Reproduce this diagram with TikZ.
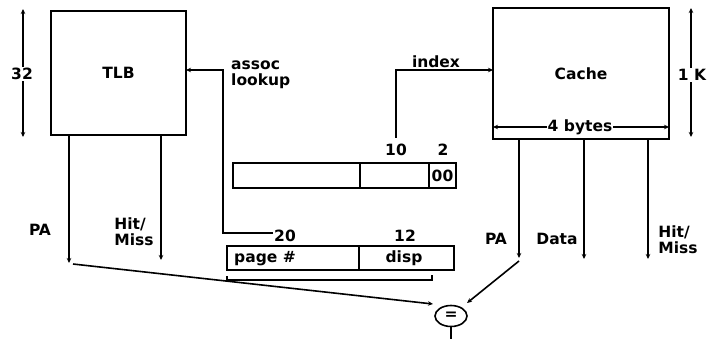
\documentclass[tikz,border=0pt]{standalone}
\usepackage{fontspec}
\setmainfont{DejaVu Sans}
\usetikzlibrary{arrows.meta,shapes.geometric}
\begin{document}
\begin{tikzpicture}[x=1pt,y=-1pt,
  every node/.style={font=\fontsize{15.5}{16}\selectfont\bfseries, inner sep=1pt},
  ln/.style={line width=1.6pt},
  arr/.style={ln,-{Stealth[length=5pt,width=4.5pt]}},
  darr/.style={ln,{Stealth[length=5pt,width=4.5pt]}-{Stealth[length=5pt,width=4.5pt]}},
  blk/.style={draw,line width=1.6pt,inner sep=0pt},
  lbl/.style={fill=white,inner sep=1pt},
  ml/.style={align=left}]
\useasboundingbox (0,0) rectangle (708,339);
% TLB
\node[blk,minimum width=135pt,minimum height=124pt] (tlb) at (118.5,73) {TLB};
\coordinate (t32a) at (23,9);
\coordinate (t32b) at (23,137);
\draw[darr] (t32a) -- (t32b);
\node[lbl] (n32) at (22,74) {32};
% Cache
\node[blk,minimum width=176pt,minimum height=131pt] (cache) at (581,73.5) {Cache};
\coordinate (cba) at (493,127);
\coordinate (cbb) at (669,127);
\draw[darr] (cba) -- (cbb);
\node[lbl] (n4b) at (580,127) {4 bytes};
\coordinate (c1a) at (691,8);
\coordinate (c1b) at (691,137);
\draw[darr] (c1a) -- (c1b);
\node[lbl] (n1k) at (692,75) {1 K};
% TLB outputs
\coordinate (tpaS) at (69,135);
\coordinate (tpaE) at (69,263);
\coordinate (thmS) at (161,135);
\coordinate (thmE) at (161,260);
\draw[arr] (tpaS) -- (tpaE);
\draw[arr] (thmS) -- (thmE);
\node (lpa1) at (40,230) {PA};
\node[ml] (lhm1) at (134,232) {Hit/\\Miss};
% Cache outputs
\coordinate (cpaS) at (519,139);
\coordinate (cpaE) at (519,258);
\coordinate (cdS) at (584,139);
\coordinate (cdE) at (584,259);
\coordinate (chmS) at (648,139);
\coordinate (chmE) at (648,259);
\draw[arr] (cpaS) -- (cpaE);
\draw[arr] (cdS) -- (cdE);
\draw[arr] (chmS) -- (chmE);
\node (lpa2) at (496,239) {PA};
\node (ldata) at (557,239) {Data};
\node[ml] (lhm2) at (678,240) {Hit/\\Miss};
% address 1
\draw[ln] (233,163) rectangle (456,188);
\draw[ln] (360,163) -- (360,188);
\draw[ln] (429,163) -- (429,188);
\node (n00) at (442.5,176) {00};
\node (n10) at (396,150) {10};
\node (n2) at (443,150) {2};
% address 2
\draw[ln] (227,246) rectangle (454,270);
\draw[ln] (359,246) -- (359,270);
\node[anchor=west] (npg) at (233,259) {page \#};
\node (ndisp) at (404,258) {disp};
\node (n20) at (285,236) {20};
\node (n12) at (405,236) {12};
% bracket
\draw[ln] (227,276) -- (227,280) -- (432,280) -- (432,275);
% assoc lookup
\node[ml,anchor=west] (nassoc) at (230,75) {assoc\\lookup};
\coordinate (alc) at (223,233);
\coordinate (alt) at (223,70);
\coordinate (ale) at (186,70);
\draw[arr] (n20.west |- alc) -- (alc) -- (alt) -- (ale);
% index
\node (nidx) at (436,62) {index};
\coordinate (ixb) at (396,138);
\coordinate (ixt) at (396,70);
\coordinate (ixe) at (493,70);
\draw[arr] (ixb) -- (ixt) -- (ixe);
% comparator
\node[draw,ellipse,line width=1.6pt,minimum width=32pt,minimum height=21pt,inner sep=0pt] (cmp) at (451,316) {=};
\coordinate (cmpo) at (451,339);
\draw[ln] (cmp.south) -- (cmpo);
\coordinate (d1s) at (73,264);
\coordinate (d1e) at (433,304);
\draw[arr] (d1s) -- (d1e);
\coordinate (d2s) at (519,261);
\coordinate (d2e) at (467,303);
\draw[arr] (d2s) -- (d2e);
\end{tikzpicture}
\end{document}
